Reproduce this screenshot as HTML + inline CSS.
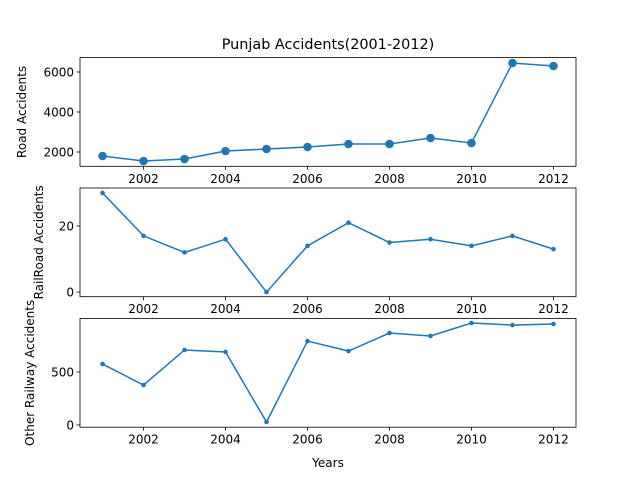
<!DOCTYPE html>
<html><head><meta charset="utf-8"><style>
body{margin:0;background:#fff;font-family:"Liberation Sans","DejaVu Sans",sans-serif;}
svg text{font-family:"DejaVu Sans","Liberation Sans",sans-serif;font-size:12px;fill:#000}
</style></head><body>
<svg id="chart" width="640" height="480">
<rect width="640" height="480" fill="#fff"/>
<text x="328" y="49" text-anchor="middle" style="font-size:14.4px">Punjab Accidents(2001-2012)</text>
<text x="328" y="467" text-anchor="middle" style="font-size:12px">Years</text>
</svg>
<script>
const years=[2001,2002,2003,2004,2005,2006,2007,2008,2009,2010,2011,2012];
const roadAccidents=[1800,1550,1650,2050,2150,2250,2400,2400,2700,2450,6450,6300];
const railroadAccidents=[30,17,12,16,0,14,21,15,16,14,17,13];
const otherRailwayAccidents=[575,377,708,689,28,792,698,868,840,962,943,953];
const xTicks=[2002,2004,2006,2008,2010,2012];
const ticks1=[2000,4000,6000], ticks2=[0,20], ticks3=[0,500];
const svg=document.getElementById('chart');
const NS='http://www.w3.org/2000/svg';
const L=80,R=576,x0=2000.45,x1=2012.55;
const xs=v=>L+(v-x0)/(x1-x0)*(R-L);
function mk(t,a){const e=document.createElementNS(NS,t);for(const k in a)e.setAttribute(k,a[k]);svg.appendChild(e);return e;}
function panel(id,top,bot,ymin,ymax,vals,ticks,title,r,lx){
  const ys=v=>bot-(v-ymin)/(ymax-ymin)*(bot-top);
  let pts=years.map((y,i)=>xs(y)+','+ys(vals[i])).join(' ');
  const line=mk('polyline',{points:pts,fill:'none',stroke:'#1f77b4','stroke-width':1.5});
  
  
  years.forEach((y,i)=>{const c=mk('circle',{cx:xs(y),cy:ys(vals[i]),r:r,fill:'#1f77b4'});
    
    });
  const fr=mk('rect',{x:L,y:top,width:R-L,height:bot-top,fill:'none',stroke:'#000','stroke-width':0.8});
  
  
  ticks.forEach(t=>{const y=ys(t);mk('line',{x1:L-3.5,x2:L,y1:y,y2:y,stroke:'#000','stroke-width':0.8});
    const tx=mk('text',{x:L-6,y:y+4.3,'text-anchor':'end'});tx.textContent=t;
    
    });
  xTicks.forEach(t=>{const x=xs(t);mk('line',{x1:x,x2:x,y1:bot,y2:bot+3.5,stroke:'#000','stroke-width':0.8});
    const tx=mk('text',{x:x,y:bot+16.5,'text-anchor':'middle'});tx.textContent=t;
    
    });
  const yt=mk('text',{x:0,y:0,'text-anchor':'middle',transform:`translate(${lx},${(top+bot)/2}) rotate(-90)`});
  yt.textContent=title;
  
  
}
panel('road',57.6,166.3,1285,6720,roadAccidents,ticks1,'Road Accidents',4.3,26);
panel('railroad',188,296.7,-1.4,31.5,railroadAccidents,ticks2,'RailRoad Accidents',2.3,43);
panel('other-railway',318.5,427.2,-21,1005,otherRailwayAccidents,ticks3,'Other Railway Accidents',2.3,34);
</script>
</body></html>
